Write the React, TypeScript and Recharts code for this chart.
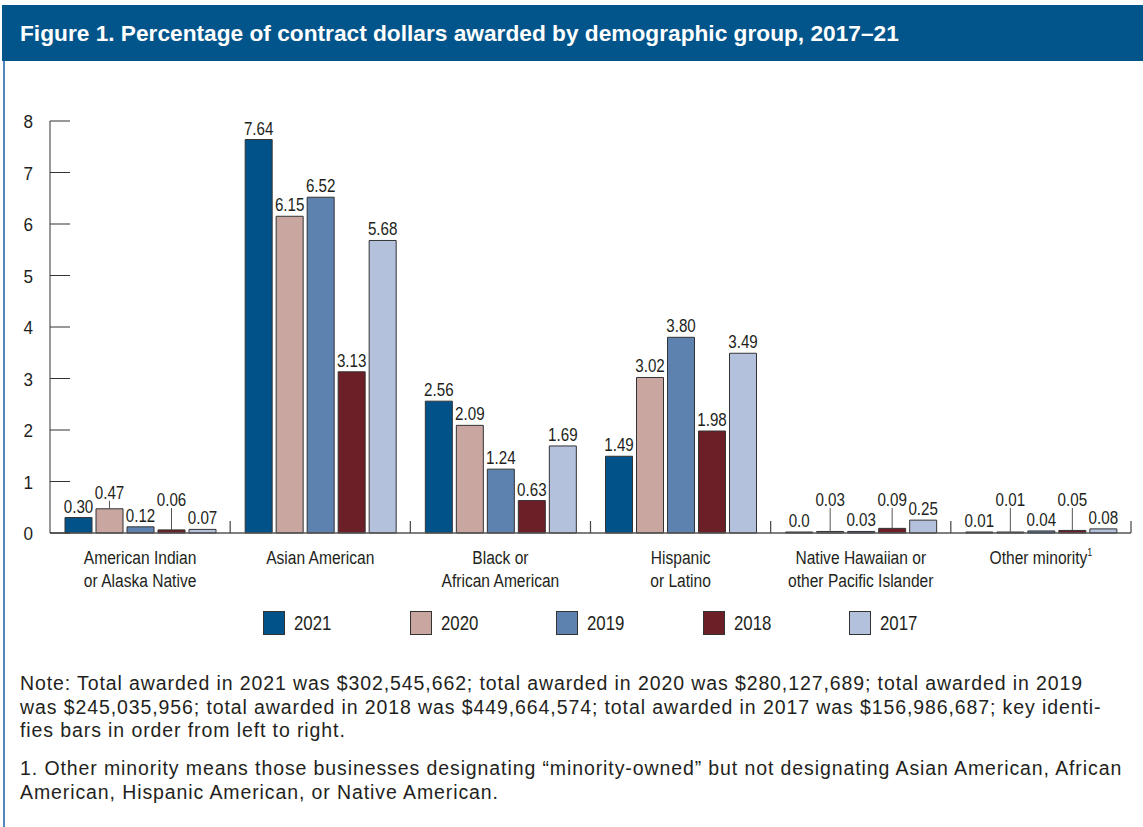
import React from "react";
import { BarChart, Bar, XAxis, YAxis, LabelList, Legend } from "recharts";

// categories (split over two lines like the printed figure)
const groups: string[][] = [
  ["American Indian", "or Alaska Native"],
  ["Asian American"],
  ["Black or", "African American"],
  ["Hispanic", "or Latino"],
  ["Native Hawaiian or", "other Pacific Islander"],
  ["Other minority"],
];

const years = ["2021", "2020", "2019", "2018", "2017"];

// percent of contract dollars, per year
const v2021 = [0.3, 7.64, 2.56, 1.49, 0.0, 0.01];
const v2020 = [0.47, 6.15, 2.09, 3.02, 0.03, 0.01];
const v2019 = [0.12, 6.52, 1.24, 3.8, 0.03, 0.04];
const v2018 = [0.06, 3.13, 0.63, 1.98, 0.09, 0.05];
const v2017 = [0.07, 5.68, 1.69, 3.49, 0.25, 0.08];

const yTicks = [0, 1, 2, 3, 4, 5, 6, 7, 8];

const series = [v2021, v2020, v2019, v2018, v2017];
const colors = ["#02528a", "#c9a7a0", "#5d82b0", "#6d1f28", "#b3c1dc"];

const data = groups.map((g, i) => {
  const row: any = { name: g.join(" ") };
  years.forEach((yr, s) => (row["y" + yr] = series[s][i]));
  return row;
});

const INK = "#231f20";
const SANS = "'Liberation Sans', Arial, sans-serif";

const CHART_W = 1143;
const MARGIN = { top: 121, right: 12, left: 10, bottom: 107 };
const Y_W = 40;
const PLOT_W = CHART_W - MARGIN.left - MARGIN.right - Y_W;

// no Arial Narrow here, so squeeze Liberation Sans the same way
const NText = ({ x, y, anchor = "middle", size = 18.5, sx = 0.82, children }: any) => (
  <text
    transform={`translate(${x},${y}) scale(${sx},1)`}
    textAnchor={anchor}
    fontSize={size}
    fontFamily={SANS}
    fill={INK}
  >
    {children}
  </text>
);

const CategoryTick = (props: any) => {
  const { x, y, payload } = props;
  const idx = groups.findIndex((g) => g.join(" ") === payload.value);
  const lines = groups[idx] || [payload.value];
  const half = payload.offset || PLOT_W / groups.length / 2;
  return (
    <g>
      {/* separator tick at the right edge of each category band */}
      <line x1={x + half} x2={x + half} y1={y} y2={y - 12} stroke="#444" strokeWidth={1.2} />
      {lines.map((ln, i) => (
        <NText key={i} x={x} y={y + 31 + i * 23} size={19}>
          {ln}
          {idx === 5 && (
            <tspan fontSize={11} dy={-8}>
              1
            </tspan>
          )}
        </NText>
      ))}
    </g>
  );
};

const YTick = (props: any) => {
  const { x, y, payload } = props;
  return (
    <g>
      <NText x={x} y={y + 7} anchor="end" size={19} sx={0.9}>
        {payload.value}
      </NText>
      <line x1={x + 17} x2={x + 37} y1={y} y2={y} stroke="#333" strokeWidth={1} />
    </g>
  );
};

// small-value groups get the 2020 and 2018 labels lifted on a leader line
const makeLabel = (s: number) => (props: any) => {
  const { x, y, width, height, value, index } = props;
  const cx = x + width / 2;
  const base = y + height;
  const text = value === 0 ? "0.0" : Number(value).toFixed(2);
  const groupMax = Math.max(...series.map((arr) => arr[index]));
  const raised = groupMax < 1 && (s === 1 || s === 3);
  if (!raised) {
    return (
      <NText x={cx} y={y - 5}>
        {text}
      </NText>
    );
  }
  const ly = Math.min(y - 10, base - 27);
  return (
    <g>
      <line x1={cx} x2={cx} y1={ly + 2} y2={y} stroke="#555" strokeWidth={1} />
      <NText x={cx} y={ly}>
        {text}
      </NText>
    </g>
  );
};

const LegendContent = () => (
  <div style={{ display: "flex", height: 0 }}>
    {years.map((yr, i) => (
      <div key={yr} style={{ width: 146.5, display: "flex", alignItems: "flex-start", flex: "none" }}>
        <div
          style={{
            width: 20,
            height: 22,
            background: colors[i],
            border: "1px solid #333",
            flex: "none",
          }}
        />
        <span
          style={{
            marginLeft: 9,
            fontFamily: SANS,
            fontSize: 20.5,
            color: INK,
            lineHeight: "24px",
            display: "inline-block",
            transform: "scaleX(0.82)",
            transformOrigin: "left center",
          }}
        >
          {yr}
        </span>
      </div>
    ))}
  </div>
);

export default function App() {
  return (
    <div style={{ position: "absolute", left: 0, top: 0, width: 1143, height: 827, background: "#fff", overflow: "hidden" }}>
      <div
        style={{
          position: "absolute",
          left: 2,
          top: 5,
          right: 0,
          height: 56,
          background: "#02558b",
          color: "#fff",
          fontFamily: SANS,
          fontWeight: 700,
          fontSize: 22.7,
          lineHeight: "56px",
          paddingLeft: 18,
          whiteSpace: "nowrap",
        }}
      >
        Figure 1. Percentage of contract dollars awarded by demographic group, 2017–21
      </div>
      <div style={{ position: "absolute", left: 3, top: 61, width: 2, bottom: 0, background: "#4f87bd" }} />

      <div style={{ position: "absolute", left: 0, top: 0 }}>
        <BarChart
          width={CHART_W}
          height={700}
          data={data}
          margin={MARGIN}
          barCategoryGap={15}
          barGap={4}
        >
          <XAxis
            dataKey="name"
            height={60}
            interval={0}
            tickLine={false}
            tickSize={0}
            tickMargin={0}
            tick={<CategoryTick />}
            axisLine={{ stroke: "#555", strokeWidth: 1.5 }}
          />
          <YAxis
            width={Y_W}
            domain={[0, 8]}
            ticks={yTicks}
            interval={0}
            tickLine={false}
            tickSize={0}
            tickMargin={17}
            tick={<YTick />}
            axisLine={{ stroke: "#333" }}
          />
          <Legend
            content={<LegendContent />}
            wrapperStyle={{ position: "absolute", left: 263, top: 611, width: 760, height: 0 }}
          />
          {years.map((yr, s) => (
            <Bar
              key={yr}
              dataKey={"y" + yr}
              name={yr}
              fill={colors[s]}
              stroke="#333"
              strokeWidth={1}
              minPointSize={1}
              isAnimationActive={false}
            >
              <LabelList dataKey={"y" + yr} content={makeLabel(s)} />
            </Bar>
          ))}
        </BarChart>
      </div>

      <div
        style={{
          position: "absolute",
          left: 20,
          top: 672,
          fontFamily: SANS,
          fontSize: 19.5,
          letterSpacing: 0.9,
          lineHeight: "23.5px",
          color: INK,
          whiteSpace: "nowrap",
        }}
      >
        <div>
          Note: Total awarded in 2021 was $302,545,662; total awarded in 2020 was $280,127,689; total awarded in 2019
        </div>
        <div>
          was $245,035,956; total awarded in 2018 was $449,664,574; total awarded in 2017 was $156,986,687; key identi-
        </div>
        <div>fies bars in order from left to right.</div>
        <div style={{ marginTop: 14.5 }}>
          1. Other minority means those businesses designating “minority-owned” but not designating Asian American, African
        </div>
        <div>American, Hispanic American, or Native American.</div>
      </div>
    </div>
  );
}
